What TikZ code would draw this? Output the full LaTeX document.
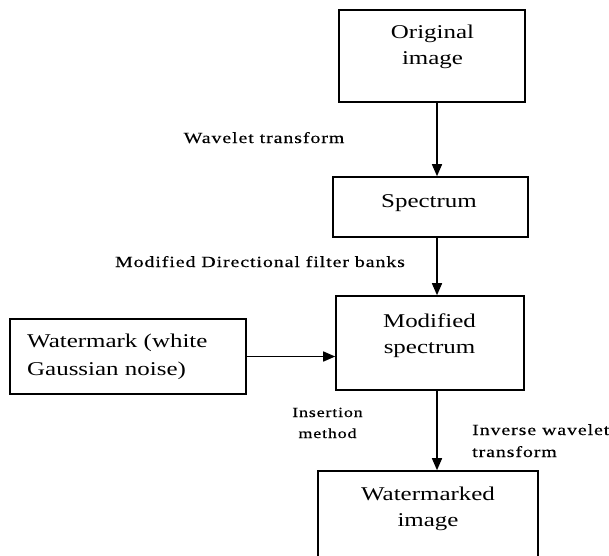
\documentclass[tikz,border=0pt]{standalone}
\usepackage{fontspec}
\setmainfont{Liberation Serif}[FakeStretch=1.28]
\newfontfamily\lblfont{Liberation Serif}[FakeStretch=1.28,LetterSpace=6,FakeBold=0.4]
\usetikzlibrary{arrows.meta}
\newcommand{\twolines}[3]{\begin{tabular}[t]{@{}#1@{}}#2\\#3\end{tabular}}
\begin{document}
\begin{tikzpicture}[x=1pt,y=-1pt,
  boxnode/.style={draw=black,line width=1.6pt,rectangle,inner sep=0pt},
  bigtext/.style={inner sep=0pt,font=\fontsize{19.5}{26}\selectfont,text=black},
  lbltext/.style={inner sep=0pt,font=\lblfont\fontsize{15.5}{22}\selectfont,text=black},
  arr/.style={line width=1.5pt,-{Triangle[length=12pt,width=10pt]}}]
\clip (0,0) rectangle (609,555);
\fill[white] (0,0) rectangle (609,555);
% boxes
\node[boxnode,minimum width=186pt,minimum height=92pt] (orig) at (432,56) {};
\node[boxnode,minimum width=195pt,minimum height=60pt] (spec) at (430.5,207) {};
\node[boxnode,minimum width=188pt,minimum height=94pt] (mod) at (430,343) {};
\node[boxnode,minimum width=236pt,minimum height=75pt] (wm) at (128,356.5) {};
\node[boxnode,minimum width=220pt,minimum height=104pt] (wmkd) at (428,523) {};
% box texts
\node[bigtext,anchor=base] (origtxt) at (432.5,38) {\twolines{c}{Original}{image}};
\node[bigtext,anchor=base] (spectxt) at (429,207) {Spectrum};
\node[bigtext,anchor=base] (modtxt) at (429.5,327) {\twolines{c}{Modified}{spectrum}};
\node[bigtext,anchor=base west,font=\fontsize{19.5}{28}\selectfont] (wmtxt) at (27,347) {\twolines{l}{Watermark (white}{Gaussian noise)}};
\node[bigtext,anchor=base] (wmkdtxt) at (428,500) {\twolines{c}{Watermarked}{image}};
% labels
\node[lbltext,anchor=base] (l1) at (264,143) {Wavelet transform};
\node[lbltext,anchor=base] (l2) at (260,267) {Modified Directional filter banks};
\node[lbltext,anchor=base,font=\lblfont\fontsize{14}{21}\selectfont] (l3) at (327.5,417) {\twolines{c}{Insertion}{method}};
\node[lbltext,anchor=base west] (l4) at (472,435) {\twolines{l}{Inverse wavelet}{transform}};
% connectors
\coordinate (ax) at (437,0);
\draw[arr] (orig.south -| ax) -- (spec.north -| ax);
\draw[arr] (spec.south -| ax) -- (mod.north -| ax);
\draw[arr] (mod.south -| ax) -- (wmkd.north -| ax);
\draw[arr] (wm.east) -- (mod.west |- wm.east);
\end{tikzpicture}
\end{document}
